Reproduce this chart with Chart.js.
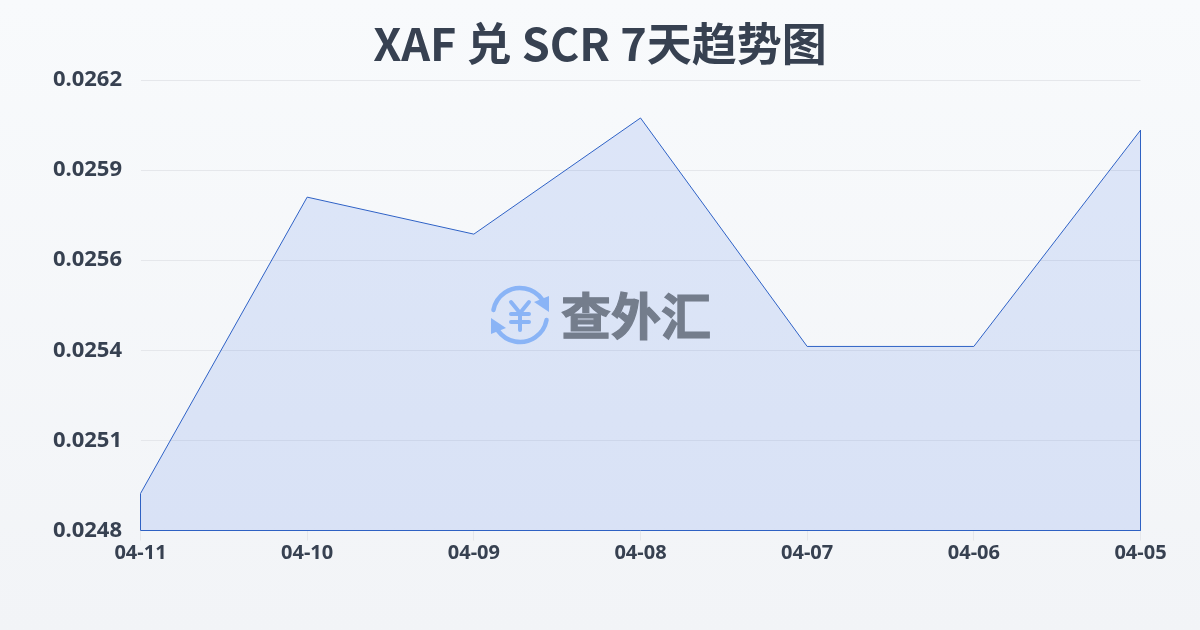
<!DOCTYPE html>
<html>
<head>
<meta charset="utf-8">
<script src="https://cdn.jsdelivr.net/npm/chart.js@4"></script>
<style>
  html, body { margin: 0; padding: 0; width: 1200px; height: 630px; overflow: hidden; }
  body { background: linear-gradient(180deg, #f8fafc 0%, #f2f4f7 100%); }
  canvas { display: block; }
</style>
</head>
<body>
<canvas id="rateChart" width="1200" height="630"></canvas>
<script>
// 图表数据
var titleText = 'XAF 兑 SCR 7天趋势图';
var dates = ['04-11', '04-10', '04-09', '04-08', '04-07', '04-06', '04-05'];
var rates = [0.024915, 0.025836, 0.025721, 0.026082, 0.025372, 0.025372, 0.026044];
var yTicks = [0.0248, 0.02508, 0.02536, 0.02564, 0.02592, 0.0262];
var yMin = 0.0248;
var yMax = 0.0262;

var fontFamily = '"Noto Sans", "Noto Sans CJK SC", sans-serif';

// 边线是封闭的：从底边上去，沿数据走，再回到底边
var outline = [{ x: dates[0], y: yMin }];
dates.forEach(function (d, i) { outline.push({ x: d, y: rates[i] }); });
outline.push({ x: dates[dates.length - 1], y: yMin });
outline.push({ x: dates[0], y: yMin });

// 水印：图标 + 文字
var watermark = {
  id: 'watermark',
  afterDatasetsDraw: function (chart) {
    var c = chart.ctx;
    c.save();
    c.translate(520, 315);
    c.strokeStyle = '#8ab4f6';
    c.fillStyle = '#8ab4f6';
    c.lineWidth = 4.5;
    c.lineCap = 'round';
    c.lineJoin = 'round';

    // 两段环形箭头
    c.beginPath();
    c.arc(0, 0, 27, Math.PI * 1.06, Math.PI * 1.8);
    c.stroke();
    c.beginPath();
    c.arc(0, 0, 27, Math.PI * 0.06, Math.PI * 0.8);
    c.stroke();
    c.beginPath();
    c.moveTo(29, -3); c.lineTo(29, -19); c.lineTo(14, -13); c.closePath();
    c.fill();
    c.beginPath();
    c.moveTo(-29, 3); c.lineTo(-29, 19); c.lineTo(-14, 13); c.closePath();
    c.fill();

    // ¥ 符号
    c.lineWidth = 4;
    c.beginPath();
    c.moveTo(-9, -13); c.lineTo(0, -2); c.lineTo(9, -13);
    c.moveTo(0, -2); c.lineTo(0, 15);
    c.moveTo(-9, -1); c.lineTo(9, -1);
    c.moveTo(-9, 7); c.lineTo(9, 7);
    c.stroke();
    c.restore();

    c.save();
    c.fillStyle = '#747d8c';
    c.strokeStyle = '#747d8c';
    c.lineWidth = 1.2;
    c.font = 'bold 50px "Noto Sans CJK SC", sans-serif';
    c.textAlign = 'left';
    c.textBaseline = 'middle';
    c.fillText('查外汇', 561, 316);
    c.strokeText('查外汇', 561, 316);
    c.restore();
  }
};

var ctx = document.getElementById('rateChart').getContext('2d');

var rateChart = new Chart(ctx, {
  type: 'line',
  data: {
    labels: dates,
    datasets: [
      {
        // 面积
        data: rates,
        borderWidth: 0,
        borderColor: 'rgba(0, 0, 0, 0)',
        backgroundColor: 'rgba(37, 99, 235, 0.125)',
        fill: 'start',
        tension: 0,
        pointRadius: 0
      },
      {
        // 边线
        data: outline,
        borderColor: '#2f62c4',
        borderWidth: 1,
        fill: false,
        tension: 0,
        pointRadius: 0,
        clip: 3
      }
    ]
  },
  options: {
    responsive: false,
    animation: false,
    plugins: {
      legend: { display: false },
      tooltip: { enabled: false },
      title: {
        display: true,
        text: titleText,
        color: '#374151',
        font: { family: '"Noto Sans CJK SC", "Noto Sans", sans-serif', size: 45, weight: 'bold' },
        padding: { top: 17, bottom: 9 }
      }
    },
    scales: {
      x: {
        offset: false,
        afterFit: function (scale) { scale.height = 99.5; },
        grid: { color: '#e5e7eb', drawOnChartArea: false, tickLength: 10 },
        border: { display: false },
        ticks: {
          color: '#374151',
          font: { family: fontFamily, size: 20, weight: 'bold' },
          maxRotation: 0,
          autoSkip: false,
          padding: 1
        }
      },
      y: {
        min: yMin,
        max: yMax,
        afterBuildTicks: function (scale) {
          scale.ticks = yTicks.map(function (v) { return { value: v }; });
        },
        afterFit: function (scale) { scale.width = 140.5; },
        grid: { color: '#e5e7eb', drawTicks: false },
        border: { display: false },
        ticks: {
          color: '#374151',
          font: { family: fontFamily, size: 22, weight: 'bold' },
          padding: 18.5,
          callback: function (v) { return v.toFixed(4); }
        }
      },
      // 右侧留白，标题才能居中
      rightGap: {
        position: 'right',
        afterFit: function (scale) { scale.width = 59.5; },
        grid: { display: false },
        border: { display: false },
        ticks: { display: false }
      }
    }
  },
  plugins: [watermark]
});
</script>
</body>
</html>
